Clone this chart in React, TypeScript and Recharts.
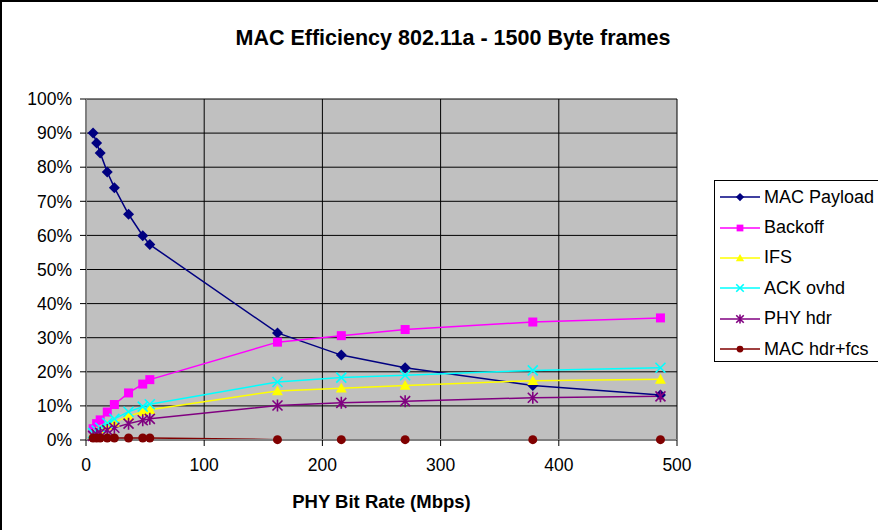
import { CartesianGrid, Label, Line, LineChart, XAxis, YAxis } from "recharts";

// --- Data (PHY rate in Mbps, shares in %) ---

const rates = [6, 9, 12, 18, 24, 36, 48, 54, 162, 216, 270, 378, 486];
const macPayload = [90, 87.1, 84.2, 78.6, 74.0, 66.2, 59.9, 57.3, 31.4, 24.9, 21.2, 16.0, 13.2];
const backoff = [3.3, 4.8, 5.9, 8.2, 10.4, 13.8, 16.4, 17.7, 28.7, 30.6, 32.4, 34.6, 35.8];
const ifs = [1.7, 2.4, 3.0, 4.2, 5.2, 7.0, 8.3, 8.9, 14.4, 15.2, 16.0, 17.4, 17.8];
const ackOvhd = [2.0, 2.8, 3.6, 5.0, 6.2, 8.3, 9.8, 10.5, 17.0, 18.3, 19.0, 20.4, 21.2];
const phyHdr = [1.2, 1.7, 2.1, 2.9, 3.6, 4.8, 5.8, 6.2, 10.1, 10.9, 11.4, 12.4, 12.8];
const macHdrFcs = [0.6, 0.6, 0.6, 0.6, 0.6, 0.6, 0.6, 0.6, 0.1, 0.1, 0.1, 0.1, 0.1];

const xTicks = [0, 100, 200, 300, 400, 500];
const yTicks = [0, 10, 20, 30, 40, 50, 60, 70, 80, 90, 100];

type Shape = "diamond" | "square" | "triangle" | "cross" | "star" | "circle";

const seriesList: { key: string; name: string; color: string; shape: Shape; values: number[] }[] = [
  { key: "payload", name: "MAC Payload", color: "#000080", shape: "diamond", values: macPayload },
  { key: "backoff", name: "Backoff", color: "#FF00FF", shape: "square", values: backoff },
  { key: "ifs", name: "IFS", color: "#FFFF00", shape: "triangle", values: ifs },
  { key: "ack", name: "ACK ovhd", color: "#00FFFF", shape: "cross", values: ackOvhd },
  { key: "phy", name: "PHY hdr", color: "#800080", shape: "star", values: phyHdr },
  { key: "machdr", name: "MAC hdr+fcs", color: "#800000", shape: "circle", values: macHdrFcs },
];

const data = rates.map((rate, i) => {
  const row: Record<string, number> = { rate };
  seriesList.forEach((s) => (row[s.key] = s.values[i]));
  return row;
});

const FONT = "'Liberation Sans', Arial, sans-serif";

// Excel-style marker glyphs
function Marker({ shape, cx, cy, color, s = 1 }: { shape: Shape; cx: number; cy: number; color: string; s?: number }) {
  switch (shape) {
    case "diamond": {
      const r = 5.5 * s;
      return <path d={`M${cx},${cy - r}L${cx + r},${cy}L${cx},${cy + r}L${cx - r},${cy}Z`} fill={color} />;
    }
    case "square": {
      const r = 4.5 * s;
      return <rect x={cx - r} y={cy - r} width={2 * r} height={2 * r} fill={color} />;
    }
    case "triangle": {
      const r = 5.5 * s;
      return <path d={`M${cx},${cy - r}L${cx + r},${cy + r * 0.8}L${cx - r},${cy + r * 0.8}Z`} fill={color} />;
    }
    case "cross": {
      const r = 5 * s;
      return (
        <path
          d={`M${cx - r},${cy - r}L${cx + r},${cy + r}M${cx - r},${cy + r}L${cx + r},${cy - r}`}
          stroke={color}
          strokeWidth={1.6}
        />
      );
    }
    case "star": {
      const r = 5 * s;
      return (
        <path
          d={`M${cx - r},${cy - r}L${cx + r},${cy + r}M${cx - r},${cy + r}L${cx + r},${cy - r}M${cx},${cy - r * 1.2}L${cx},${cy + r * 1.2}`}
          stroke={color}
          strokeWidth={1.6}
        />
      );
    }
    default:
      return <circle cx={cx} cy={cy} r={4.5 * s} fill={color} />;
  }
}

function ChartLegend() {
  return (
    <div
      style={{
        position: "absolute",
        left: 712,
        top: 178,
        width: 190,
        height: 182,
        boxSizing: "border-box",
        border: "1px solid #000",
        background: "#fff",
        fontFamily: FONT,
        fontSize: 18,
        paddingTop: 1,
      }}
    >
      {seriesList.map((s) => (
        <div key={s.key} style={{ display: "flex", alignItems: "center", height: 30.4, whiteSpace: "nowrap" }}>
          <svg width={40} height={16} style={{ marginLeft: 5, flexShrink: 0 }}>
            <line x1={0} y1={8} x2={40} y2={8} stroke={s.color} strokeWidth={1.5} />
            <Marker shape={s.shape} cx={20} cy={8} color={s.color} s={0.75} />
          </svg>
          <span style={{ marginLeft: 4 }}>{s.name}</span>
        </div>
      ))}
    </div>
  );
}

export default function App() {
  return (
    <div
      style={{
        position: "fixed",
        left: 0,
        top: 0,
        width: 878,
        height: 530,
        background: "#fff",
        overflow: "hidden",
        borderLeft: "2px solid #000",
        borderTop: "2px solid #000",
        boxSizing: "border-box",
      }}
    >
      <div
        style={{
          position: "absolute",
          left: 12,
          width: 878,
          top: 24,
          textAlign: "center",
          fontFamily: FONT,
          fontWeight: "bold",
          fontSize: 21.5,
        }}
      >
        MAC Efficiency 802.11a - 1500 Byte frames
      </div>
      <div style={{ position: "absolute", left: -2, top: -2 }}>
        <LineChart
          width={878}
          height={530}
          data={data}
          margin={{ top: 99, right: 201, bottom: 20, left: 0 }}
          style={{ fontFamily: FONT }}
        >
          <CartesianGrid fill="#C0C0C0" stroke="#000" strokeWidth={1} fillOpacity={1} />
          <XAxis
            type="number"
            dataKey="rate"
            domain={[0, 500]}
            ticks={xTicks}
            height={70}
            tick={{ fill: "#000", fontSize: 17.5 }}
            tickSize={6}
            tickMargin={13}
            tickLine={{ stroke: "#000" }}
            axisLine={{ stroke: "#808080", strokeWidth: 2 }}
          >
            <Label
              value="PHY Bit Rate (Mbps)"
              position="insideBottom"
              offset={2}
              style={{ fontWeight: "bold", fontSize: 18.5, fill: "#000" }}
            />
          </XAxis>
          <YAxis
            type="number"
            domain={[0, 100]}
            ticks={yTicks}
            width={86}
            tickFormatter={(v) => `${v}%`}
            tick={{ fill: "#000", fontSize: 17.5 }}
            tickSize={6}
            tickMargin={8}
            tickLine={{ stroke: "#000" }}
            axisLine={{ stroke: "#808080", strokeWidth: 2 }}
          />
          {seriesList.map((s) => (
            <Line
              key={s.key}
              type="linear"
              dataKey={s.key}
              name={s.name}
              stroke={s.color}
              strokeWidth={1.5}
              isAnimationActive={false}
              dot={(p: any) => (
                <Marker key={`${s.key}-${p.index}`} shape={s.shape} cx={p.cx} cy={p.cy} color={s.color} />
              )}
            />
          ))}
        </LineChart>
      </div>
      <ChartLegend />
    </div>
  );
}
